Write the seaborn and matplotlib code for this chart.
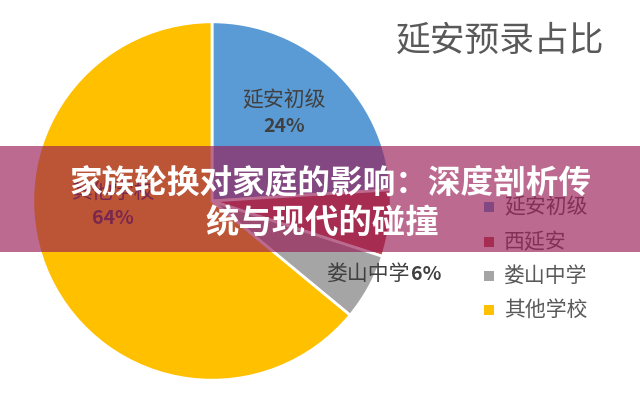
import matplotlib
matplotlib.use("Agg")
import matplotlib.pyplot as plt
import seaborn as sns
from matplotlib.patches import Rectangle

sns.set_theme(style="white")
plt.rcParams['font.family'] = ['Noto Sans CJK SC', 'DejaVu Sans']

# Data
categories = ["延安初级", "西延安", "娄山中学", "其他学校"]
values = [24, 6, 6, 64]
colors = ["#5B9BD5", "#C0504D", "#A5A5A5", "#FFC000"]
title = "延安预录占比"
banner_lines = ["家族轮换对家庭的影响：深度剖析传", "统与现代的碰撞"]

W, H = 640, 399
fig = plt.figure(figsize=(W / 100, H / 100), dpi=100)
fig.patch.set_facecolor("white")

cx, cy, r = 212, 201, 181
ax = fig.add_axes([(cx - r) / W, (H - cy - r) / H, 2 * r / W, 2 * r / H])
wedges, _ = ax.pie(values, colors=colors, startangle=90, counterclock=False,
                   wedgeprops=dict(edgecolor="white", linewidth=2), radius=1)
ax.set_xlim(-1.01, 1.01)
ax.set_ylim(-1.01, 1.01)
ax.set_aspect("equal")
ax.axis("off")

def px(x, y):
    return x / W, 1 - y / H

lab = "#404040"
# slice labels
fig.text(*px(284, 100), categories[0], ha="center", va="center",
         fontsize=15, color=lab)
fig.text(*px(284, 127), f"{values[0]}%", ha="center", va="center",
         fontsize=14, fontweight="bold", color=lab)
fig.text(*px(113, 192), categories[3], ha="center", va="center",
         fontsize=15, color=lab)
fig.text(*px(113, 218), f"{values[3]}%", ha="center", va="center",
         fontsize=14, fontweight="bold", color=lab)
t1 = fig.text(*px(327, 274), categories[2], ha="left", va="center",
              fontsize=15, color=lab)
fig.canvas.draw()
bb = t1.get_window_extent(fig.canvas.get_renderer())
fig.text(bb.x1 / W + 1 / W, 1 - 274 / H, f"{values[2]}%", ha="left", va="center",
         fontsize=14, fontweight="bold", color=lab)

# title
fig.text(*px(500, 41), title, ha="center", va="center",
         fontsize=25, color="#595959")

# legend
ys = [207, 242, 276, 310]
for cat, col, y in zip(categories, colors, ys):
    x0, y0 = px(484, y - 5)
    fig.patches.append(Rectangle((x0, y0 - 10 / H), 10 / W, 10 / H,
                                 transform=fig.transFigure, color=col, lw=0))
    fig.text(*px(504, y), cat, ha="left", va="center",
             fontsize=15, color="#595959")

# banner overlay
b0, b1 = 146, 252
fig.patches.append(Rectangle(px(0, b1), 1, (b1 - b0) / H,
                             transform=fig.transFigure, lw=0,
                             facecolor=(0.60, 0.10, 0.33), alpha=0.65, zorder=5))
fig.text(*px(331, 183), banner_lines[0], ha="center", va="center",
         fontsize=23.5, fontweight="bold", color="white", zorder=6)
fig.text(*px(322, 223), banner_lines[1], ha="center", va="center",
         fontsize=24, fontweight="bold", color="white", zorder=6)

fig.savefig("out.png", dpi=100)
